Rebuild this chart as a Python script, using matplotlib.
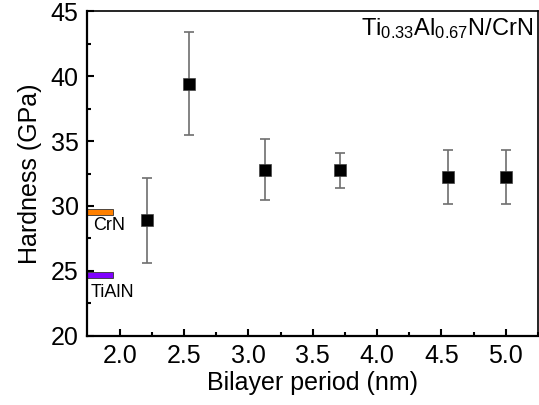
import numpy as np
import matplotlib
matplotlib.use('Agg')
import matplotlib.pyplot as plt

plt.rcParams['font.family'] = ['Liberation Sans', 'DejaVu Sans']
plt.rcParams['mathtext.fontset'] = 'custom'
plt.rcParams['mathtext.rm'] = 'Liberation Sans'
plt.rcParams['mathtext.it'] = 'Liberation Sans'

# bilayer period (nm) vs hardness (GPa)
period = [2.21, 2.54, 3.13, 3.71, 4.55, 5.0]
hardness = [28.9, 39.4, 32.8, 32.75, 32.2, 32.2]
hardness_err = [3.25, 3.95, 2.35, 1.36, 2.08, 2.08]

# single-layer reference values
ref_names = ['CrN', 'TiAlN']
ref_hardness = [29.55, 24.7]
ref_colors = ['#ff8000', '#8000ff']

xmin, xmax = 1.745, 5.235
ymin, ymax = 20, 45

fig = plt.figure(figsize=(5.39, 4.05), dpi=100)
ax = fig.add_axes([0.1614, 0.1704, 0.8366, 0.8024])

ax.errorbar(period, hardness, yerr=hardness_err, fmt='none', ecolor='#6e6e6e',
            elinewidth=1.2, capsize=3.5, capthick=1.2, zorder=2)
ax.plot(period, hardness, 's', color='black', markersize=8.5,
        markeredgecolor='#444444', markeredgewidth=0.5, zorder=3)

# reference bars against the y axis
ax.barh(ref_hardness, 0.205, left=xmin, height=0.45, color=ref_colors,
        edgecolor='#333333', linewidth=0.6, zorder=2)
ax.text(1.791, ref_hardness[0] - 0.42, ref_names[0], fontsize=13, va='top', ha='left')
ax.text(1.772, ref_hardness[1] - 0.72, ref_names[1], fontsize=13, va='top', ha='left')

ax.text(0.99, 0.985, r'Ti$_{0.33}$Al$_{0.67}$N/CrN', transform=ax.transAxes,
        fontsize=17, ha='right', va='top')

ax.set_xlim(xmin, xmax)
ax.set_ylim(ymin, ymax)
ax.set_xticks(np.arange(2.0, 5.01, 0.5))
ax.set_xticks(np.arange(2.25, 5.3, 0.5), minor=True)
ax.set_yticks(np.arange(20, 45.1, 5))
ax.set_yticks(np.arange(22.5, 45, 5), minor=True)
ax.xaxis.set_major_formatter(matplotlib.ticker.FormatStrFormatter('%.1f'))

ax.tick_params(which='both', direction='in', top=False, right=False,
               labelsize=18, width=1.5, pad=6)
ax.tick_params(which='major', length=5)
ax.tick_params(which='minor', length=3)
for side in ['left', 'bottom']:
    ax.spines[side].set_linewidth(1.6)
for side in ['top', 'right']:
    ax.spines[side].set_linewidth(1.2)

ax.set_xlabel('Bilayer period (nm)', fontsize=18, labelpad=2)
ax.set_ylabel('Hardness (GPa)', fontsize=18, labelpad=6)

fig.savefig('out.png', dpi=100)
